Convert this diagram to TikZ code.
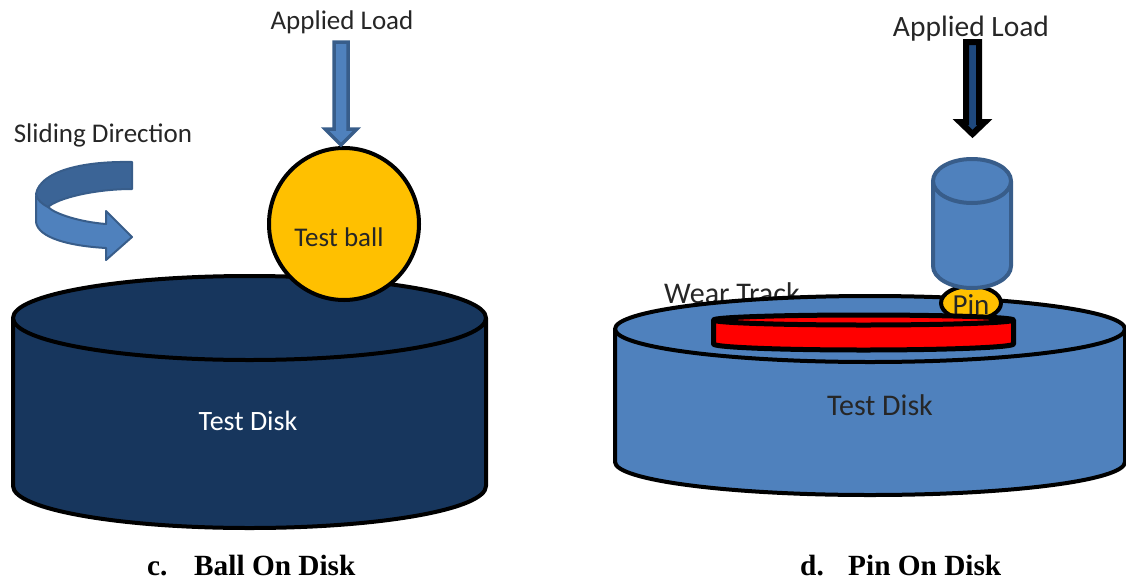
\documentclass[tikz,border=0pt]{standalone}
\usepackage{fontspec}
\setmainfont{Carlito}
\newfontfamily\capfont{Liberation Serif}
\usepackage{tikz}
\definecolor{navydisk}{HTML}{17365D}
\definecolor{steelblue}{HTML}{4F81BD}
\definecolor{steeledge}{HTML}{385D8A}
\definecolor{darkband}{HTML}{3B6496}
\definecolor{loadblue}{HTML}{1F497D}
\definecolor{ballgold}{HTML}{FFC000}
\definecolor{labelgrey}{HTML}{262626}
\newcommand{\labelfont}[1]{\fontsize{#1}{30}\selectfont}
\tikzset{
    outline/.style={draw=black, line width=4pt},
    steel/.style={draw=steeledge, fill=steelblue, line width=4pt},
    label/.style={text=labelgrey, inner sep=0pt, font=\labelfont{27}},
    caption/.style={text=black, inner sep=0pt, anchor=base west, font=\capfont\bfseries\fontsize{29.3}{32}\selectfont},
}

\begin{document}
\begin{tikzpicture}[x=1pt, y=-1pt, line join=round]
    \useasboundingbox (0,0) rectangle (1126,581);

    % ball on disk
    \draw[outline, fill=navydisk] (13,318) -- (13,486) arc[start angle=180, end angle=0, x radius=236.5, y radius=42] -- (486,318);
    \draw[outline, fill=navydisk] (249.5,318) ellipse (236.5 and 42);
    \draw[outline, fill=ballgold] (344,224) ellipse (75 and 76);
    \node[label] (ballLabel) at (339,237) {Test ball};
    \node[label, text=white, font=\labelfont{28}] (diskLeft) at (248,421) {Test Disk};

    \draw[steel, line width=3.5pt, line join=miter] (334,42) -- (348,42) -- (348,129) -- (357,129) -- (341,145) -- (325,129) -- (334,129) -- cycle;
    \node[label] (loadLeft) at (342,22) {Applied Load};

    \node[label] (slideLabel) at (103,135) {Sliding Direction};
    \fill[steelblue, draw=steeledge, line width=2pt] (36,196) -- (36,222) .. controls (38,238) and (70,246) .. (106,248) -- (106,260) -- (132,237) -- (106,211) -- (106,224) .. controls (80,222) and (55,214) .. (48,207) -- cycle;
    \fill[darkband, draw=steeledge, line width=2pt] (132,162) .. controls (80,161) and (40,172) .. (36,194) .. controls (37,200) and (42,204) .. (48,207) .. controls (58,198) and (95,189) .. (132,189) -- cycle;

    % pin on disk
    \node[label, anchor=west, font=\labelfont{30}] (wearLabel) at (664,293) {Wear Track};
    \draw[outline, fill=steelblue] (615,329) -- (615,462) arc[start angle=180, end angle=0, x radius=255, y radius=33] -- (1125,329);
    \draw[outline, fill=steelblue] (870,329) ellipse (255 and 33);
    \node[label, font=\labelfont{30}] (diskRight) at (880,405) {Test Disk};

    \draw[outline, fill=ballgold] (971,303) ellipse (30 and 17);
    \node[label, font=\labelfont{29}] (pinLabel) at (971,305) {Pin};

    \draw[draw=black, line width=5pt, fill=red] (713.5,320) -- (713.5,344) arc[start angle=180, end angle=0, x radius=150, y radius=6] -- (1013.5,320);
    \draw[draw=black, line width=5pt, fill=red] (863.5,320) ellipse (150 and 5);

    \draw[steel] (933,181) -- (933,266) arc[start angle=180, end angle=0, x radius=39, y radius=22] -- (1011,181);
    \draw[steel] (972,181) ellipse (39 and 22);

    \draw[fill=loadblue, draw=black, line width=6pt, line join=miter] (966,42) -- (979,42) -- (979,122) -- (985,122) -- (972.5,134) -- (960,122) -- (966,122) -- cycle;
    \node[label, font=\labelfont{29.5}] (loadRight) at (971,28.5) {Applied Load};

    % captions
    \node[caption] (capC) at (147,575) {c.};
    \node[caption] (capCtext) at (194,575) {Ball On Disk};
    \node[caption] (capD) at (800,575) {d.};
    \node[caption] (capDtext) at (848,575) {Pin On Disk};
\end{tikzpicture}
\end{document}
